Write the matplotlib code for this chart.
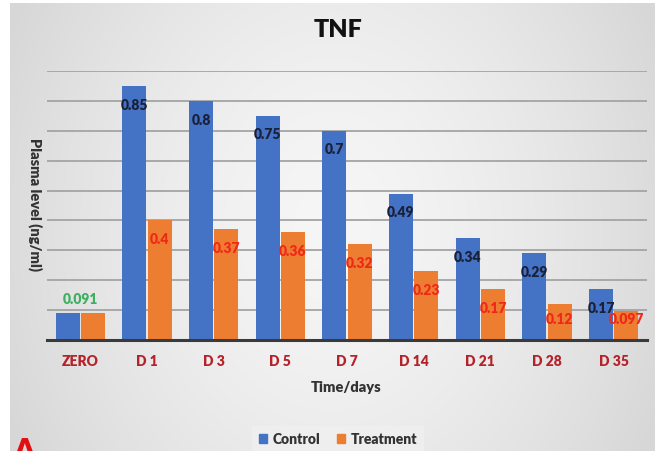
import numpy as np
import matplotlib
matplotlib.use("Agg")
import matplotlib.pyplot as plt
from matplotlib.patches import Patch

categories = ["ZERO", "D 1", "D 3", "D 5", "D 7", "D 14", "D 21", "D 28", "D 35"]
control = [0.091, 0.85, 0.8, 0.75, 0.7, 0.49, 0.34, 0.29, 0.17]
treatment = [0.091, 0.4, 0.37, 0.36, 0.32, 0.23, 0.17, 0.12, 0.097]
control_labels = ["", "0.85", "0.8", "0.75", "0.7", "0.49", "0.34", "0.29", "0.17"]
treatment_labels = ["", "0.4", "0.37", "0.36", "0.32", "0.23", "0.17", "0.12", "0.097"]
zero_label = "0.091"

FONT = ["Lato", "DejaVu Sans"]
plt.rcParams["font.family"] = FONT
BOLD = "heavy"

W, H = 660, 451
fig = plt.figure(figsize=(W / 100, H / 100), dpi=100, facecolor="white")

# gradient background panel
bg = fig.add_axes([10 / W, 0, (655 - 10) / W, (451 - 3) / H], zorder=-10)
xx = np.linspace(-1, 1, 300)
yy = np.linspace(-1, 1, 200)
X, Y = np.meshgrid(xx, yy)
R = np.clip(np.sqrt((X * 0.9) ** 2 + (Y * 0.5) ** 2), 0, 1)
grad = 0.965 - 0.12 * R ** 1.5
bg.imshow(np.dstack([grad, grad, grad]), aspect="auto", extent=[0, 1, 0, 1])
bg.set_axis_off()

ax = fig.add_axes([47 / W, 1 - 340 / H, (647 - 47) / W, (340 - 71) / H])
ax.patch.set_alpha(0)

x = np.arange(len(categories))
w = 0.36
off = 0.19
ax.bar(x - off, control, w, color="#4472C4", zorder=3, label="Control")
ax.bar(x + off, treatment, w, color="#ED7D31", zorder=3, label="Treatment")

ax.set_xlim(-0.5, len(categories) - 0.5)
ax.set_ylim(0, 0.9)
ax.set_yticks(np.arange(0.1, 0.91, 0.1))
ax.yaxis.grid(True, color="#a4a4a4", linewidth=1.3, zorder=0)
ax.tick_params(axis="y", left=False, labelleft=False)
ax.tick_params(axis="x", bottom=False, pad=7)
for s in ["top", "right", "left"]:
    ax.spines[s].set_visible(False)
ax.spines["bottom"].set_color("#3a3a3a")
ax.spines["bottom"].set_linewidth(2.2)
ax.spines["bottom"].set_zorder(4)

ax.set_xticks(x)
ax.set_xticklabels(categories, fontsize=10, fontweight=BOLD, color="#b5222a")

for i in range(len(categories)):
    if control_labels[i]:
        yl = max(control[i] - 0.064, 0.067)
        ax.text(x[i] - off, yl, control_labels[i], ha="center", va="center",
                fontsize=10, fontweight=BOLD, color="#1a2038", zorder=5)
    if treatment_labels[i]:
        yl = max(treatment[i] - 0.064, 0.067)
        ax.text(x[i] + off, yl, treatment_labels[i], ha="center", va="center",
                fontsize=10, fontweight=BOLD, color="#f02818", zorder=5)
ax.text(x[0], control[0] + 0.045, zero_label, ha="center", va="center",
        fontsize=10, fontweight=BOLD, color="#3cb060", zorder=5)

fig.text(338 / W, 1 - 30 / H, "TNF", ha="center", va="center",
         fontsize=18, fontweight=BOLD, color="#111111")
fig.text(346 / W, 1 - 387 / H, "Time/days", ha="center", va="center",
         fontsize=10.5, fontweight=BOLD, color="#333333")
fig.text(35 / W, 1 - 205 / H, "Plasma level (ng/ml)", ha="center", va="center",
         rotation=270, fontsize=10.5, fontweight=BOLD, color="#333333")

handles = [Patch(color="#4472C4", label="Control"), Patch(color="#ED7D31", label="Treatment")]
leg = fig.legend(handles=handles, loc="center", bbox_to_anchor=(338 / W, 1 - 439 / H),
                 ncol=2, frameon=True, fontsize=10, handlelength=0.6, handleheight=0.6,
                 handletextpad=0.4, columnspacing=1.2, borderpad=0.5, fancybox=False)
leg.get_frame().set_facecolor("#f0f0f0")
leg.get_frame().set_edgecolor("none")
for t in leg.get_texts():
    t.set_fontweight(BOLD)
    t.set_color("#333333")

fig.text(12 / W, 1 - 437 / H, "A", ha="left", va="top", fontsize=24,
         fontweight=BOLD, color="#e01010")

fig.savefig("out.png", dpi=100)
